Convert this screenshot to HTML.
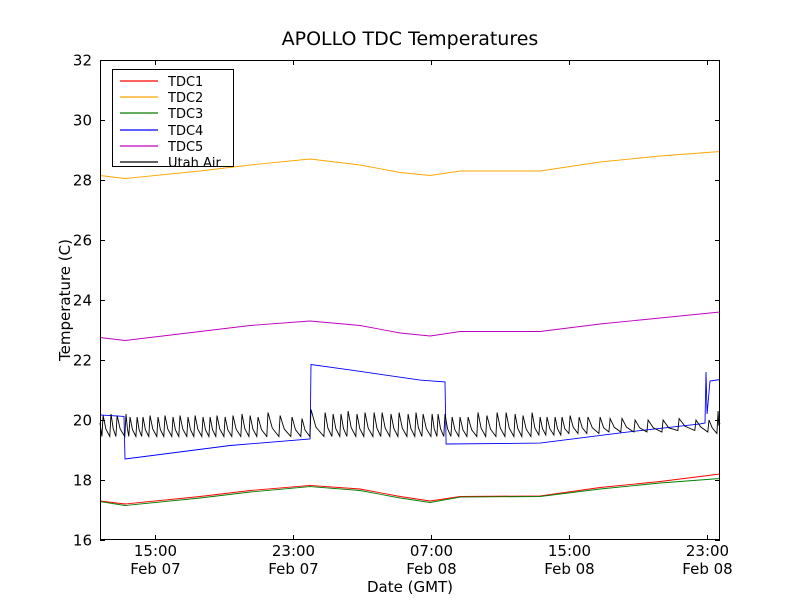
<!DOCTYPE html>
<html><head><meta charset="utf-8"><style>
body{margin:0;background:#fff;}
svg text{font-family:"DejaVu Sans","Liberation Sans",sans-serif;}
</style></head><body>
<svg id="chart" width="800" height="600" xmlns="http://www.w3.org/2000/svg">
<rect width="800" height="600" fill="#fff"/>
<text x="410" y="45" font-size="19" text-anchor="middle">APOLLO TDC Temperatures</text>
<g id="plot"></g>
<rect x="100.5" y="60.5" width="619" height="479" fill="none" stroke="#000" stroke-width="1"/>
<g id="ticks"></g>
<text transform="translate(70,300) rotate(-90)" font-size="15" text-anchor="middle">Temperature (C)</text>
<text x="410" y="592" font-size="15" text-anchor="middle">Date (GMT)</text>
<g id="legend"></g>
</svg>
<script>
const commonHours=[11.81,13.26,17.61,20.51,23.99,26.89,29.21,30.95,32.69,37.32,40.80,44.28,47.75];
const tdc1=[17.3,17.2,17.45,17.65,17.82,17.7,17.45,17.3,17.45,17.47,17.75,17.95,18.2];
const tdc2=[28.15,28.05,28.3,28.5,28.7,28.5,28.25,28.15,28.3,28.3,28.6,28.8,28.95];
const tdc3=[17.28,17.15,17.4,17.6,17.78,17.65,17.4,17.25,17.43,17.45,17.7,17.9,18.05];
const tdc5=[22.75,22.65,22.95,23.15,23.3,23.15,22.9,22.8,22.95,22.95,23.2,23.4,23.6];
const tdc4Hours=[11.81,13.20,13.26,19.35,23.99,24.04,26.31,30.36,31.81,31.87,37.32,41.96,46.59,46.88,46.94,47.0,47.17,47.75];
const tdc4=[20.17,20.12,18.7,19.15,19.37,21.85,21.67,21.33,21.27,19.2,19.23,19.57,19.87,19.9,21.6,20.2,21.3,21.35];
const airPeakHours=[11.99,12.45,12.80,13.32,13.55,13.96,14.30,14.71,15.17,15.58,16.04,16.45,16.91,17.32,17.78,18.19,18.59,19.06,19.52,20.04,20.51,20.97,21.55,22.25,22.94,23.52,24.04,24.86,25.32,25.78,26.19,26.71,27.17,27.70,28.16,28.68,29.15,29.67,30.13,30.54,31.06,31.41,31.81,32.22,32.68,33.15,33.72,34.24,34.83,35.35,35.87,36.33,36.86,37.32,37.72,38.19,38.59,39.06,39.58,40.10,40.80,41.38,42.07,42.83,43.58,44.45,45.38,46.36,47.11,47.64];
const airPeaks=[20.15,20.2,20.15,20.2,20.1,20.1,20.1,20.15,20.1,20.15,20.1,20.15,20.1,20.15,20.1,20.1,20.15,20.1,20.15,20.2,20.15,20.1,20.25,20.15,20.1,20.05,20.35,20.25,20.2,20.2,20.3,20.2,20.25,20.25,20.25,20.2,20.25,20.2,20.25,20.2,20.2,20.2,20.2,20.1,20.1,20.1,20.25,20.15,20.25,20.25,20.2,20.15,20.25,20.1,20.1,20.1,20.1,20.15,20.1,20.1,20.1,20.05,20.05,20.0,20.0,20.0,20.05,20.0,20.0,20.3];
const airTroughs=[19.45,19.45,19.45,19.45,19.45,19.45,19.45,19.45,19.45,19.45,19.45,19.45,19.45,19.45,19.45,19.45,19.45,19.45,19.45,19.45,19.45,19.45,19.45,19.45,19.45,19.45,19.45,19.45,19.45,19.45,19.45,19.45,19.45,19.45,19.45,19.45,19.45,19.45,19.45,19.45,19.45,19.45,19.45,19.45,19.45,19.45,19.45,19.45,19.45,19.45,19.45,19.45,19.45,19.5,19.5,19.5,19.5,19.55,19.55,19.55,19.55,19.6,19.6,19.6,19.6,19.6,19.65,19.65,19.6,19.55];
const yTicks=[16,18,20,22,24,26,28,30,32];
const xTickHours=[15,23,31,39,47];
const xTickTimes=["15:00","23:00","07:00","15:00","23:00"];
const xTickDates=["Feb 07","Feb 07","Feb 08","Feb 08","Feb 08"];
const legendNames=["TDC1","TDC2","TDC3","TDC4","TDC5","Utah Air"];
const legendColors=["#ff0000","#ffa500","#008000","#0000ff","#bf00bf","#000000"];

const X0=100,X1=720,Y0=540,Y1=60,H0=11.81,H1=47.75,V0=16,V1=32;
const xs=h=>X0+(h-H0)/(H1-H0)*(X1-X0);
const ys=v=>Y0-(v-V0)/(V1-V0)*(Y0-Y1);
const NS="http://www.w3.org/2000/svg";
const plot=document.getElementById('plot');
function line(hours,vals,color,name){
  const p=document.createElementNS(NS,'polyline');
  p.setAttribute('points',hours.map((h,i)=>xs(h).toFixed(1)+','+ys(vals[i]).toFixed(1)).join(' '));
  p.setAttribute('fill','none');p.setAttribute('stroke',color);p.setAttribute('stroke-width','0.9');
  
  
  plot.appendChild(p);
}
line(commonHours,tdc1,'red','series-tdc1');
line(commonHours,tdc2,'orange','series-tdc2');
line(commonHours,tdc3,'green','series-tdc3');
line(tdc4Hours,tdc4,'blue','series-tdc4');
line(commonHours,tdc5,'#bf00bf','series-tdc5');
const ah=[H0],av=[19.9];
airPeakHours.forEach((h,i)=>{
  ah.push(h-0.07);av.push(airTroughs[i]);
  ah.push(h);av.push(airPeaks[i]);
  const nxt=i+1<airPeakHours.length?airPeakHours[i+1]:H1;
  ah.push(h+(nxt-h)*0.35);av.push(airTroughs[i]+(airPeaks[i]-airTroughs[i])*0.35);
});
ah.push(H1);av.push(19.9);
line(ah,av,'black','series-utah-air');

const tk=document.getElementById('ticks');
function add(tag,attrs,text,name){
  const e=document.createElementNS(NS,tag);
  for(const k in attrs)e.setAttribute(k,attrs[k]);
  if(text!==undefined)e.textContent=text;
  
  
  tk.appendChild(e);return e;
}
yTicks.forEach(v=>{
  const y=Math.round(ys(v))+0.5;
  add('line',{x1:X0,x2:X0+5,y1:y,y2:y,stroke:'#000'},undefined,'y-tick');
  add('line',{x1:X1-5,x2:X1,y1:y,y2:y,stroke:'#000'},undefined,'y-tick-right');
  add('text',{x:X0-8,y:y+5,'font-size':15,'text-anchor':'end'},String(v),'y-tick-label');
});
xTickHours.forEach((h,i)=>{
  const x=Math.round(xs(h))+0.5;
  add('line',{x1:x,x2:x,y1:Y0,y2:Y0-5,stroke:'#000'},undefined,'x-tick');
  add('line',{x1:x,x2:x,y1:Y1,y2:Y1+5,stroke:'#000'},undefined,'x-tick-top');
  add('text',{x:x,y:556,'font-size':15,'text-anchor':'middle'},xTickTimes[i],'x-tick-time');
  add('text',{x:x,y:574,'font-size':15,'text-anchor':'middle'},xTickDates[i],'x-tick-date');
});
const lg=document.getElementById('legend');
const box=document.createElementNS(NS,'rect');
box.setAttribute('x',112.5);box.setAttribute('y',69.5);box.setAttribute('width',121);box.setAttribute('height',97);
box.setAttribute('fill','#fff');box.setAttribute('stroke','#000');


lg.appendChild(box);
legendNames.forEach((n,i)=>{
  const y=Math.round(81+i*16.2);
  const l=document.createElementNS(NS,'line');
  l.setAttribute('x1',120);l.setAttribute('x2',158);l.setAttribute('y1',y);l.setAttribute('y2',y);
  l.setAttribute('stroke',legendColors[i]);l.setAttribute('stroke-width','1.2');
  
  
  lg.appendChild(l);
  const t=document.createElementNS(NS,'text');
  t.setAttribute('x',168);t.setAttribute('y',y+5);t.setAttribute('font-size',13);
  t.textContent=n;
  
  
  lg.appendChild(t);
});
</script>
</body></html>
